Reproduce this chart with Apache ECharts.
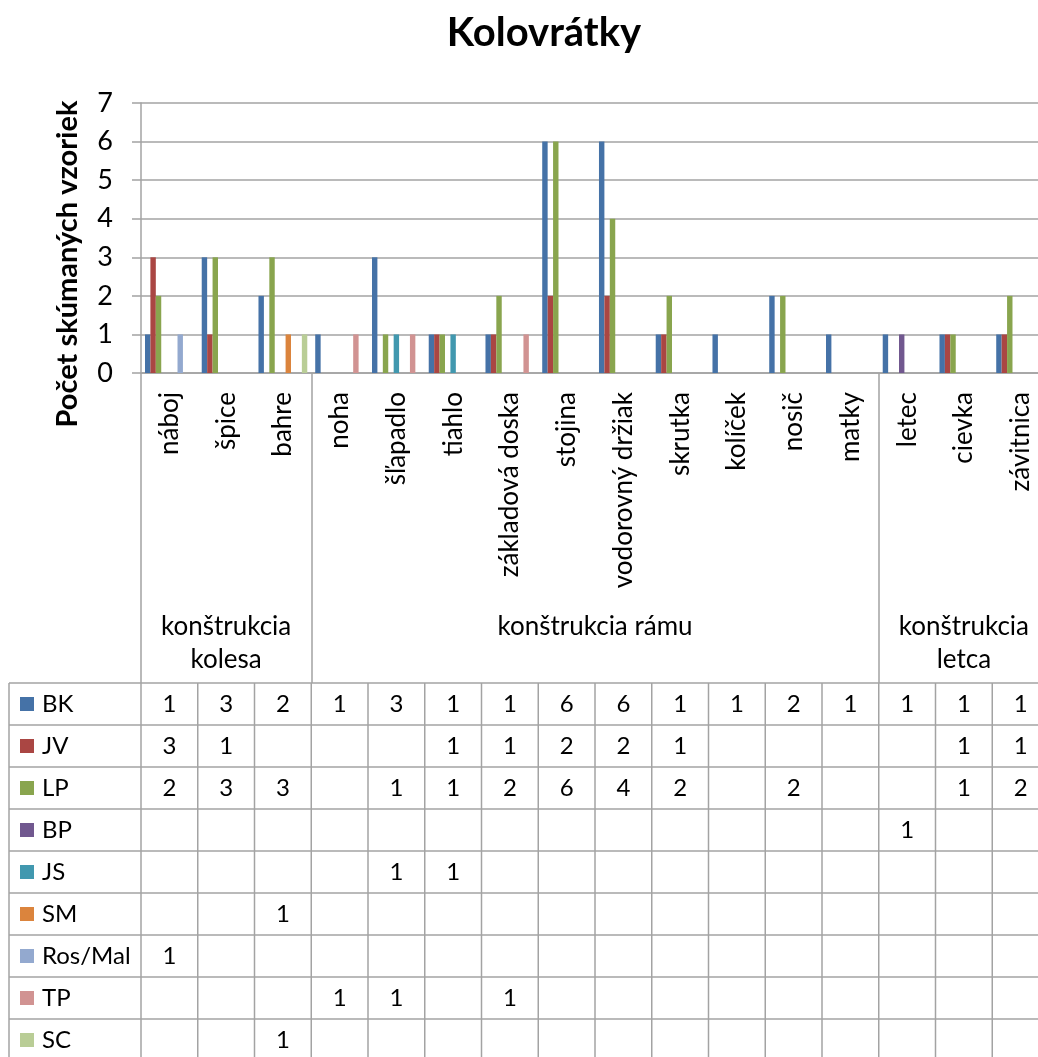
<!DOCTYPE html>
<html>
<head>
<meta charset="utf-8">
<script src="https://cdn.jsdelivr.net/npm/echarts@6/dist/echarts.min.js"></script>
<style>
  html, body { margin: 0; padding: 0; background: #ffffff; overflow: hidden; }
  #chart { width: 1038px; height: 1057px; }
</style>
</head>
<body>
<div id="chart"></div>
<script>
// Parts of the spinning wheel, in axis order
const categories = [
  'náboj', 'špice', 'bahre',
  'noha', 'šľapadlo', 'tiahlo', 'základová doska', 'stojina',
  'vodorovný držiak', 'skrutka', 'kolíček', 'nosič', 'matky',
  'letec', 'cievka', 'závitnica'
];

// Construction groups spanning consecutive categories
const groupNames = ['konštrukcia\nkolesa', 'konštrukcia rámu', 'konštrukcia\nletca'];
const groupSizes = [3, 10, 3];

// Number of examined samples per source (null = no sample)
const seriesNames = ['BK', 'JV', 'LP', 'BP', 'JS', 'SM', 'Ros/Mal', 'TP', 'SC'];
const BK     = [1, 3, 2, 1, 3, 1, 1, 6, 6, 1, 1, 2, 1, 1, 1, 1];
const JV     = [3, 1, null, null, null, 1, 1, 2, 2, 1, null, null, null, null, 1, 1];
const LP     = [2, 3, 3, null, 1, 1, 2, 6, 4, 2, null, 2, null, null, 1, 2];
const BP     = [null, null, null, null, null, null, null, null, null, null, null, null, null, 1, null, null];
const JS     = [null, null, null, null, 1, 1, null, null, null, null, null, null, null, null, null, null];
const SM     = [null, null, 1, null, null, null, null, null, null, null, null, null, null, null, null, null];
const RosMal = [1, null, null, null, null, null, null, null, null, null, null, null, null, null, null, null];
const TP     = [null, null, null, 1, 1, null, 1, null, null, null, null, null, null, null, null, null];
const SC     = [null, null, 1, null, null, null, null, null, null, null, null, null, null, null, null, null];
const seriesValues = [BK, JV, LP, BP, JS, SM, RosMal, TP, SC];

// Value axis
const yMin = 0;
const yMax = 7;
const yStep = 1;

const titleText = 'Kolovrátky';
const yAxisTitle = 'Počet skúmaných vzoriek';

const palette = ['#4572A7', '#AA4643', '#89A54E', '#71588F', '#4198AF',
                 '#DB843D', '#93A9CF', '#D19392', '#B9CD96'];
const FONT = 'Lato, "Open Sans", sans-serif';
const LINE = '#A3A3A3';

// category indices where a new group starts (plus the far end)
const groupStarts = [];
{
  let acc = 0;
  groupSizes.forEach(n => { groupStarts.push(acc); acc += n; });
  groupStarts.push(acc);
}

const chart = echarts.init(document.getElementById('chart'), null, { renderer: 'canvas' });

chart.setOption({
  animation: false,
  backgroundColor: '#ffffff',
  color: palette,
  // the plot runs a little past the right edge of the page
  grid: {
    left: 141, width: 908, top: 103, height: 270,
    containLabel: false,
    outerBoundsMode: 'none'
  },
  xAxis: {
    type: 'category',
    data: categories,
    boundaryGap: true,
    axisLine: { show: true, lineStyle: { color: LINE, width: 1.5 } },
    axisTick: {
      show: true,
      alignWithLabel: false,
      length: 310,
      interval: (index) => groupStarts.indexOf(index) !== -1,
      lineStyle: { color: LINE, width: 1.5 }
    },
    axisLabel: {
      interval: 0,
      rotate: 90,
      margin: 19,
      color: '#000',
      fontFamily: FONT,
      fontSize: 26
    },
    splitLine: { show: false }
  },
  yAxis: {
    type: 'value',
    min: yMin,
    max: yMax,
    interval: yStep,
    axisLine: { show: true, lineStyle: { color: LINE, width: 1.5 } },
    axisTick: { show: true, inside: false, length: 9, lineStyle: { color: LINE, width: 1.5 } },
    axisLabel: { margin: 28, color: '#000', fontFamily: FONT, fontSize: 27 },
    splitLine: { show: true, lineStyle: { color: LINE, width: 1.5 } }
  },
  series: seriesNames.map((name, i) => ({
    name: name,
    type: 'bar',
    data: seriesValues[i],
    barGap: '0%',
    barCategoryGap: '14%',
    itemStyle: { color: palette[i] }
  }))
});

// Data table, group labels and titles, laid out on the category axis
function buildOverlay() {
  const c0 = chart.convertToPixel({ xAxisIndex: 0 }, 0);
  const c1 = chart.convertToPixel({ xAxisIndex: 0 }, 1);
  const colW = c1 - c0;
  const colLeft = i => c0 - colW / 2 + i * colW;
  const colCenter = i => chart.convertToPixel({ xAxisIndex: 0 }, i);

  const tableTop = 683;
  const rowH = 42;
  const tableLeft = 9;
  const tableRight = colLeft(categories.length);
  const nRows = seriesNames.length;

  const els = [];

  // title
  els.push({
    type: 'text', silent: true,
    style: {
      text: titleText, x: 544, y: 33, textAlign: 'center', textVerticalAlign: 'middle',
      font: 'bold 40px ' + FONT, fill: '#000'
    }
  });
  // value axis title
  els.push({
    type: 'text', silent: true, x: 68, y: 264, rotation: Math.PI / 2,
    style: {
      text: yAxisTitle, x: 0, y: 0, textAlign: 'center', textVerticalAlign: 'middle',
      font: 'bold 29px ' + FONT, fill: '#000'
    }
  });

  // group labels
  groupNames.forEach((g, k) => {
    const left = colLeft(groupStarts[k]);
    const right = colLeft(groupStarts[k + 1]);
    els.push({
      type: 'text', silent: true,
      style: {
        text: g, x: (left + right) / 2, y: 610, textAlign: 'center', textVerticalAlign: 'top',
        font: '26px ' + FONT, fill: '#000', lineHeight: 33
      }
    });
  });

  // table grid
  for (let r = 0; r <= nRows; r++) {
    const y = tableTop + r * rowH;
    els.push({
      type: 'line', silent: true,
      shape: { x1: tableLeft, y1: y, x2: tableRight, y2: y },
      style: { stroke: LINE, lineWidth: 1.5 }
    });
  }
  const xs = [tableLeft];
  for (let i = 0; i <= categories.length; i++) xs.push(colLeft(i));
  xs.forEach(x => {
    els.push({
      type: 'line', silent: true,
      shape: { x1: x, y1: tableTop, x2: x, y2: tableTop + nRows * rowH },
      style: { stroke: LINE, lineWidth: 1.5 }
    });
  });

  // legend keys and cell values
  seriesNames.forEach((name, r) => {
    const cy = tableTop + r * rowH + rowH / 2;
    els.push({
      type: 'rect', silent: true,
      shape: { x: 20, y: cy - 7, width: 14, height: 14 },
      style: { fill: palette[r] }
    });
    els.push({
      type: 'text', silent: true,
      style: {
        text: name, x: 42, y: cy, textAlign: 'left', textVerticalAlign: 'middle',
        font: '24px ' + FONT, fill: '#000'
      }
    });
    seriesValues[r].forEach((v, i) => {
      if (v === null) return;
      els.push({
        type: 'text', silent: true,
        style: {
          text: String(v), x: colCenter(i), y: cy, textAlign: 'center', textVerticalAlign: 'middle',
          font: '24px ' + FONT, fill: '#000'
        }
      });
    });
  });

  chart.setOption({ graphic: { elements: els } });
}

buildOverlay();
</script>
</body>
</html>
